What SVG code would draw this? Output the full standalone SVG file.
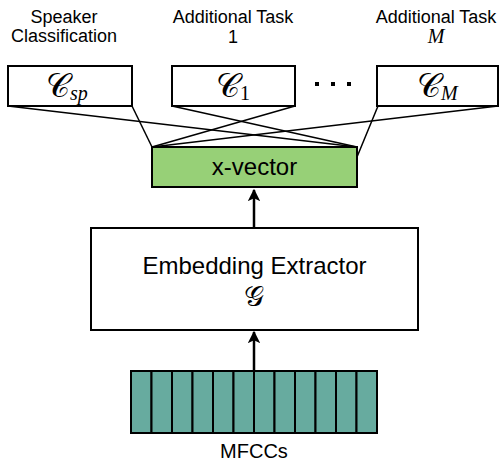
<svg xmlns="http://www.w3.org/2000/svg" width="499" height="463" viewBox="0 0 499 463">
<style>
.box{fill:#fff;stroke:#000;stroke-width:2}
.lbl{font-family:"Liberation Sans",Arial,sans-serif;font-size:18px;fill:#000;text-anchor:middle}
.big{font-family:"Liberation Sans",Arial,sans-serif;font-size:24px;fill:#000;text-anchor:middle}
.math{font-family:"DejaVu Serif","Liberation Serif",serif;font-size:33px;fill:#000}
.sub{font-family:"Liberation Serif",serif;font-style:italic;font-size:20px}
.cell{fill:#67ab9f;stroke:#000;stroke-width:2}
.con{stroke:#000;stroke-width:1.5;fill:none}
.arr{stroke:#000;stroke-width:2.5;fill:none}
</style>
<defs>
<marker id="ah" viewBox="0 0 10 10" refX="9" refY="5" markerWidth="5" markerHeight="5" markerUnits="strokeWidth" orient="auto">
<path d="M0,0 L10,5 L0,10 L2.5,5 Z" fill="#000"/>
</marker>
</defs>
<g id="labels">
<text class="lbl" x="64" y="23">Speaker</text>
<text class="lbl" x="64" y="42">Classification</text>
<text class="lbl" x="233" y="23">Additional Task</text>
<text class="lbl" x="233" y="43">1</text>
<text class="lbl" x="436" y="23">Additional Task</text>
<text class="lbl" x="436" y="43" style="font-family:'Liberation Serif',serif;font-style:italic;font-size:20px">M</text>
</g>
<g id="connectors">
<line class="con" x1="8" y1="106" x2="357" y2="147"/>
<line class="con" x1="132" y1="106" x2="152" y2="147"/>
<line class="con" x1="172" y1="106" x2="357" y2="147"/>
<line class="con" x1="295" y1="106" x2="152" y2="147"/>
<line class="con" x1="378" y1="106" x2="357" y2="157"/>
<line class="con" x1="498" y1="106" x2="152" y2="147"/>
<line class="arr" x1="254" y1="228" x2="254" y2="190" marker-end="url(#ah)"/>
<line class="arr" x1="254" y1="371" x2="254" y2="332" marker-end="url(#ah)"/>
</g>
<g id="c_sp">
<rect class="box" x="8" y="66" width="124" height="40"/>
<text class="math" x="46" y="97"><tspan>𝒞</tspan><tspan class="sub" dy="3">sp</tspan></text>
</g>
<g id="c_1">
<rect class="box" x="172" y="66" width="123" height="40"/>
<text class="math" x="216" y="97"><tspan>𝒞</tspan><tspan class="sub" dy="3" style="font-style:normal">1</tspan></text>
</g>
<g id="dots">
<rect x="315" y="82" width="4" height="4" fill="#000"/>
<rect x="331" y="82" width="4" height="4" fill="#000"/>
<rect x="347" y="82" width="4" height="4" fill="#000"/>
</g>
<g id="c_m">
<rect class="box" x="377" y="66" width="121" height="40"/>
<text class="math" x="417" y="97"><tspan>𝒞</tspan><tspan class="sub" dy="3">M</tspan></text>
</g>
<g id="xvector">
<rect x="152" y="147" width="205" height="40" fill="#97d077" stroke="#000" stroke-width="2"/>
<text class="big" x="254.5" y="175">x-vector</text>
</g>
<g id="extractor">
<rect class="box" x="91" y="228" width="327" height="102"/>
<text class="big" x="254.5" y="274">Embedding Extractor</text>
<text x="254" y="306" style="font-family:'DejaVu Serif','Liberation Serif',serif;font-size:28px;text-anchor:middle">𝒢</text>
</g>
<g id="mfcc">
<rect class="cell" x="131" y="371" width="20.5" height="62"/>
<rect class="cell" x="151.5" y="371" width="20.5" height="62"/>
<rect class="cell" x="172" y="371" width="20.5" height="62"/>
<rect class="cell" x="192.5" y="371" width="20.5" height="62"/>
<rect class="cell" x="213" y="371" width="20.5" height="62"/>
<rect class="cell" x="233.5" y="371" width="20.5" height="62"/>
<rect class="cell" x="254" y="371" width="20.5" height="62"/>
<rect class="cell" x="274.5" y="371" width="20.5" height="62"/>
<rect class="cell" x="295" y="371" width="20.5" height="62"/>
<rect class="cell" x="315.5" y="371" width="20.5" height="62"/>
<rect class="cell" x="336" y="371" width="20.5" height="62"/>
<rect class="cell" x="356.5" y="371" width="20.5" height="62"/>
<text x="254" y="458" style="font-family:'Liberation Sans',Arial,sans-serif;font-size:20px;text-anchor:middle">MFCCs</text>
</g>
</svg>
